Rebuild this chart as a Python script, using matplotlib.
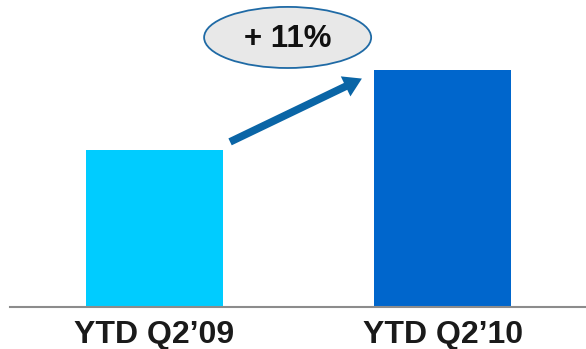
import matplotlib
matplotlib.use("Agg")
import matplotlib.pyplot as plt
from matplotlib.patches import Ellipse

categories = ["YTD Q2\u201909", "YTD Q2\u201910"]
values = [100, 111]
colors = ["#00CCFF", "#0066CC"]
growth_label = "+ 11%"

plt.rcParams['font.family'] = ['Liberation Sans', 'DejaVu Sans']

fig = plt.figure(figsize=(5.86, 3.49), dpi=100)
ax = fig.add_axes([10/586, 42/349, 576/586, 307/349])

x = list(range(len(categories)))
ax.bar(x, values, width=0.475, color=colors, zorder=2)
ax.set_xlim(-0.501, 1.496)
ax.set_ylim(78.4, 120.6)

for s in ["top", "right", "left"]:
    ax.spines[s].set_visible(False)
ax.spines["bottom"].set_color("#8C8C8C")
ax.spines["bottom"].set_linewidth(1.5)
ax.set_yticks([])
ax.set_xticks(x)
ax.set_xticklabels(categories, fontsize=23, fontweight="bold", color="#1A1A1A")
ax.tick_params(axis="x", length=0, pad=9)

# growth arrow
ax.annotate("", xy=(0.719, 109.8), xytext=(0.262, 101.1),
            arrowprops=dict(arrowstyle="simple,head_length=1.3,head_width=1.6,tail_width=0.55",
                            color="#0A65A6", lw=0, shrinkA=0, shrinkB=0), zorder=3)

ell = Ellipse((0.482, 0.878), 0.290, 0.199, transform=ax.transAxes,
              facecolor="#E8E8E8", edgecolor="#1F6AA5", lw=1.3, zorder=3)
ax.add_patch(ell)
ax.text(0.483, 0.873, growth_label, transform=ax.transAxes, ha="center", va="center",
        fontsize=22.5, fontweight="bold", color="#111111", zorder=4)

fig.savefig("out.png", dpi=100)
